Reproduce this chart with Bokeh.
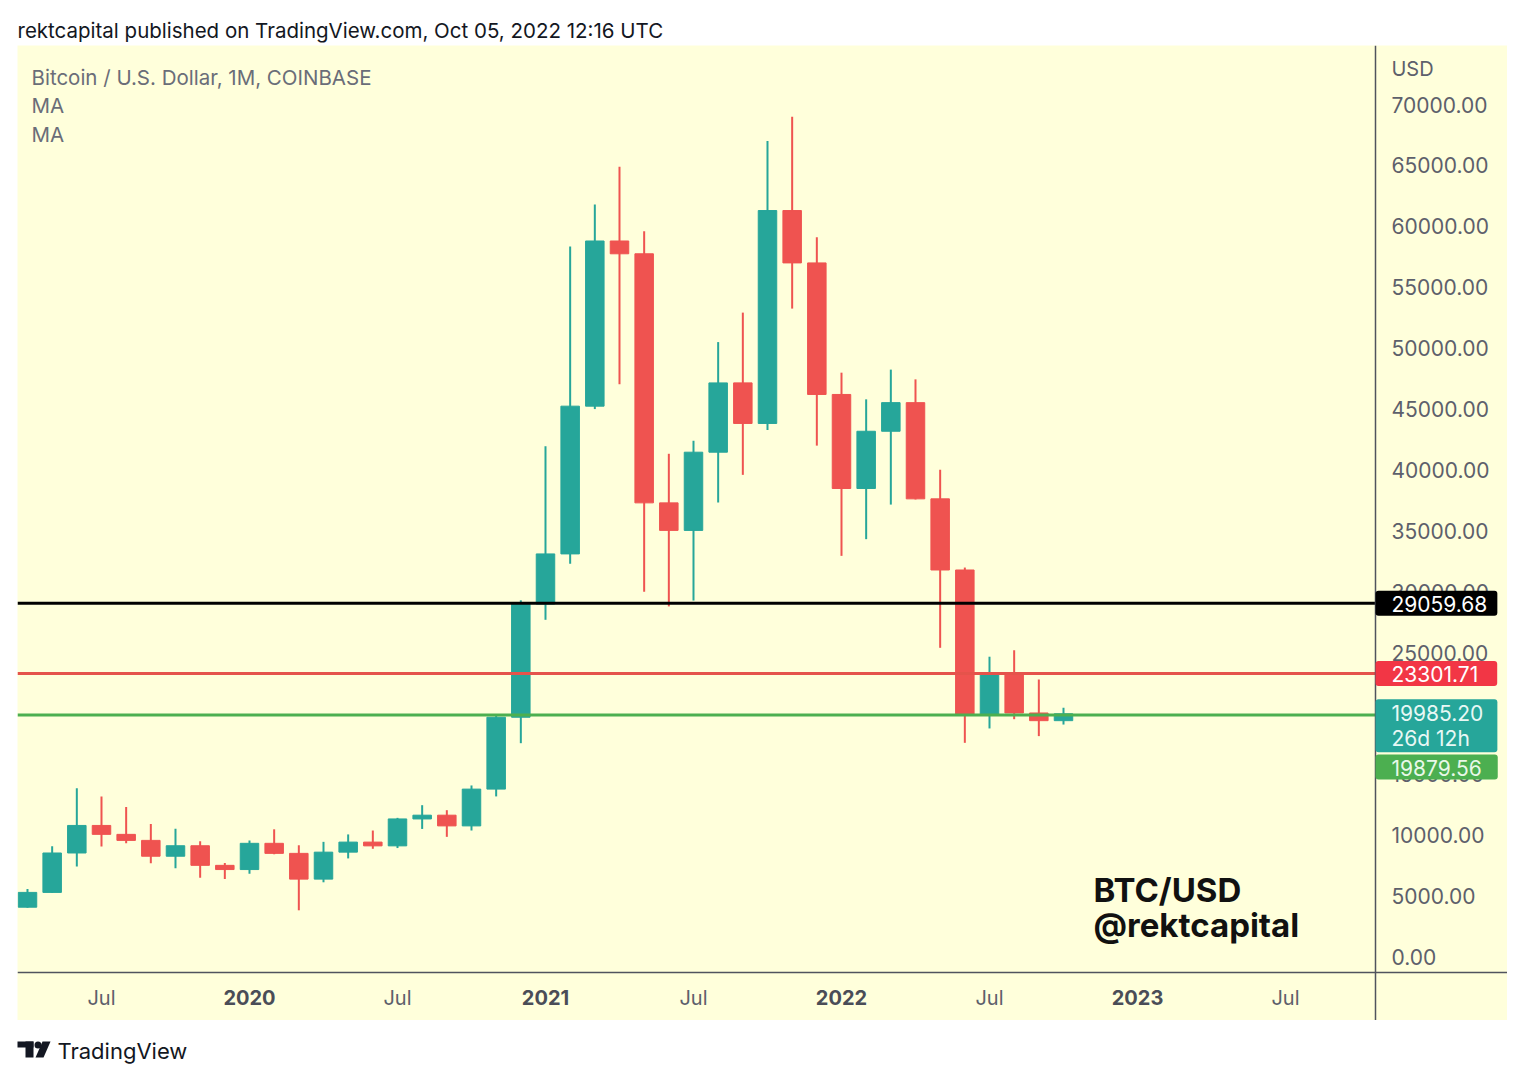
from bokeh.plotting import figure
from bokeh.models import ColumnDataSource, Range1d, FixedTicker, PrintfTickFormatter, Label
from bokeh.layouts import column
from bokeh.embed import file_html
from bokeh.resources import INLINE
from bokeh.core.properties import value

# ---------------- data ----------------
months = ["2019-04", "2019-05", "2019-06", "2019-07", "2019-08", "2019-09", "2019-10", "2019-11", "2019-12",
          "2020-01", "2020-02", "2020-03", "2020-04", "2020-05", "2020-06", "2020-07", "2020-08", "2020-09",
          "2020-10", "2020-11", "2020-12", "2021-01", "2021-02", "2021-03", "2021-04", "2021-05", "2021-06",
          "2021-07", "2021-08", "2021-09", "2021-10", "2021-11", "2021-12", "2022-01", "2022-02", "2022-03",
          "2022-04", "2022-05", "2022-06", "2022-07", "2022-08", "2022-09", "2022-10"]
opens = [4105, 5320, 8555, 10817, 10085, 9590, 8290, 9150, 7540,
         7195, 9350, 8525, 6410, 8625, 9450, 9140, 11350, 11660,
         10780, 13800, 19700, 28990, 33110, 45240, 58800, 57750, 37300,
         35040, 41460, 47150, 43820, 61300, 57000, 46200, 38480, 43180,
         45530, 37630, 31790, 19940, 23300, 20050, 19420]
highs = [5600, 9100, 13880, 13200, 12330, 10940, 10540, 9510, 7740,
         9580, 10500, 9190, 9470, 10080, 10400, 11440, 12480, 12070,
         14100, 19920, 29300, 41950, 58350, 61790, 64900, 59600, 41330,
         42400, 50500, 52920, 67000, 69000, 59100, 47990, 45800, 48240,
         47440, 40020, 31990, 24670, 25200, 22800, 20480]
lows = [4067, 5300, 7440, 9080, 9350, 7710, 7300, 6515, 6410,
        6850, 8450, 3850, 6150, 8110, 8900, 8960, 10530, 9880,
        10400, 13200, 17570, 27700, 32300, 45000, 47040, 30000, 28800,
        29280, 37330, 39600, 43280, 53250, 42000, 32950, 34320, 37160,
        37580, 25400, 17600, 18780, 19540, 18150, 19100]
closes = [5320, 8555, 10817, 10085, 9590, 8290, 9150, 7540, 7195,
          9350, 8525, 6410, 8625, 9450, 9140, 11350, 11660, 10780,
          13800, 19700, 28990, 33110, 45240, 58800, 57750, 37300, 35040,
          41460, 47150, 43820, 61300, 57000, 46200, 38480, 43180, 45530,
          37630, 31790, 19940, 23300, 20050, 19420, 19985]

month_ticks = ["2019-07", "2020-07", "2021-07", "2022-07", "2023-07"]
month_tick_label = "Jul"
year_ticks = ["2020-01", "2021-01", "2022-01", "2023-01"]
year_tick_labels = ["2020", "2021", "2022", "2023"]
price_ticks = [0, 5000, 10000, 15000, 20000, 25000, 30000, 35000, 40000, 45000, 50000, 55000, 60000, 65000, 70000]

level_values = [29059.68, 23301.71, 19879.56]
level_texts = ["29059.68", "23301.71", "19879.56"]
last_price = 19985.20
last_price_text = "19985.20"
countdown_text = "26d 12h"

header_text = "rektcapital published on TradingView.com, Oct 05, 2022 12:16 UTC"
legend_lines = ["Bitcoin / U.S. Dollar, 1M, COINBASE", "MA", "MA"]
watermark_lines = ["BTC/USD", "@rektcapital"]

# ---------------- style ----------------
FONT = "Inter"
BG = "#FFFFDB"
UP = "#26A69A"
DOWN = "#EF5350"
TXT = "#5D606B"
LEVEL_COLORS = ["#000000", "#E5534B", "#4CAF50"]
LABEL_BG = ["#000000", "#F23645", "#4CAF50"]


def midx(s):
    y, m = s.split("-")
    return (int(y) - 2019) * 12 + int(m) - 1


xs = [midx(m) for m in months]
colors = [UP if c >= o else DOWN for o, c in zip(opens, closes)]
src = ColumnDataSource(dict(
    x=xs, open=opens, high=highs, low=lows, close=closes,
    top=[max(o, c) for o, c in zip(opens, closes)],
    bottom=[min(o, c) for o, c in zip(opens, closes)],
    color=colors,
))

# view geometry (frame = whole yellow pane; axes drawn at fixed locations inside it)
X_LEFT, X_RIGHT = 2.595, 63.0
X_AXIS = 57.648          # price-scale separator
Y_BOTTOM, Y_TOP = -5197, 74850
Y_AXIS = -1256           # time-scale separator

p = figure(width=1490, height=975, output_backend="svg", toolbar_location=None,
           x_range=Range1d(X_LEFT, X_RIGHT), y_range=Range1d(Y_BOTTOM, Y_TOP),
           min_border=0, min_border_left=0, min_border_right=0, min_border_top=0, min_border_bottom=0,
           y_axis_location="right", background_fill_color=BG, border_fill_color=BG,
           outline_line_color=None, margin=(0, 9, 0, 17))
p.grid.visible = False

p.segment(x0="x", y0="low", x1="x", y1="high", line_color="color", line_width=2, source=src)
p.vbar(x="x", width=0.75, top="top", bottom="bottom", fill_color="color", line_color="color",
       line_width=1, source=src)

# horizontal levels, stopping at the price scale
p.segment(x0=[X_LEFT] * 3, x1=[X_AXIS] * 3, y0=level_values, y1=level_values,
          line_color=LEVEL_COLORS, line_width=3)

# y axis (price scale)
yax = p.yaxis[0]
yax.fixed_location = X_AXIS
yax.ticker = FixedTicker(ticks=price_ticks)
yax.formatter = PrintfTickFormatter(format="%.2f")
yax.major_tick_line_color = None
yax.minor_tick_line_color = None
yax.major_tick_out = 0
yax.major_tick_in = 0
yax.major_label_standoff = 16
yax.axis_line_color = "#50535E"
yax.axis_line_width = 1.5
yax.major_label_text_font = FONT
yax.major_label_text_font_size = "21px"
yax.major_label_text_color = TXT

# x axis (time scale)
xax = p.xaxis[0]
xax.fixed_location = Y_AXIS
xax.ticker = FixedTicker(ticks=[midx(m) for m in month_ticks])
xax.major_label_overrides = {midx(m): month_tick_label for m in month_ticks}
xax.major_tick_line_color = None
xax.minor_tick_line_color = None
xax.major_tick_out = 0
xax.major_tick_in = 0
xax.major_label_standoff = 14
xax.axis_line_color = "#50535E"
xax.axis_line_width = 1.5
xax.major_label_text_font = FONT
xax.major_label_text_font_size = "20px"
xax.major_label_text_color = TXT

for m, t in zip(year_ticks, year_tick_labels):
    p.add_layout(Label(x=midx(m), y=23, x_units="data", y_units="screen", text=t,
                       text_align="center", text_baseline="middle", text_font=FONT,
                       text_font_size="20px", text_font_style="bold", text_color="#4A4D57"))


def price_label(text, y, bg, y_offset=0, fg="white", line_height=1.2, right=10, top=5, bottom=4):
    return Label(x=X_AXIS, y=y, x_units="data", y_units="data", text=text, x_offset=0, y_offset=y_offset,
                 text_align="left", text_baseline="middle", text_font=FONT, text_font_size="21px",
                 text_color=fg, background_fill_color=bg, text_line_height=line_height,
                 padding=dict(left=16, right=right, top=top, bottom=bottom), border_radius=3)


p.add_layout(price_label(level_texts[0], level_values[0], LABEL_BG[0], right=10))
p.add_layout(price_label(level_texts[1], level_values[1], LABEL_BG[1], right=19))
p.add_layout(price_label(last_price_text + "\n" + countdown_text, last_price, UP, y_offset=-12,
                         fg="#E8F8F5", line_height=1.0, right=14, top=2, bottom=1))
p.add_layout(price_label(level_texts[2], level_values[2], LABEL_BG[2], y_offset=-52, fg="#E8F8E8",
                         right=16))

# currency label
p.add_layout(Label(x=X_AXIS, y=23, x_units="data", y_units="canvas", x_offset=16, text="USD",
                   text_align="left", text_baseline="middle", text_font=FONT,
                   text_font_size="20px", text_color=TXT))

# legend texts
for t, yy in zip(legend_lines, [32, 60, 89]):
    p.add_layout(Label(x=14, y=yy, x_units="canvas", y_units="canvas", text=t,
                       text_align="left", text_baseline="middle", text_font=FONT,
                       text_font_size="20.5px", text_color="#6A6D78"))

# watermark
for t, yy in zip(watermark_lines, [844, 879]):
    p.add_layout(Label(x=1076, y=yy, x_units="canvas", y_units="canvas", text=t,
                       text_align="left", text_baseline="middle", text_font=FONT,
                       text_font_size="33px", text_font_style="bold", text_color="#111111"))

# ---------------- header ----------------
hdr = figure(width=1516, height=45, output_backend="svg", toolbar_location=None,
             x_range=Range1d(0, 1516), y_range=Range1d(0, 45), min_border=0,
             x_axis_location=None, y_axis_location=None, outline_line_color=None,
             background_fill_color="white", border_fill_color="white")
hdr.grid.visible = False
hdr.text(x=[17], y=[15], text=[header_text], text_font=value(FONT), text_font_size="20.5px",
         text_baseline="middle", text_align="left", text_color="#131722")

# ---------------- footer ----------------
ftr = figure(width=1516, height=52, output_backend="svg", toolbar_location=None,
             x_range=Range1d(0, 1516), y_range=Range1d(0, 52), min_border=0,
             x_axis_location=None, y_axis_location=None, outline_line_color=None,
             background_fill_color="white", border_fill_color="white")
ftr.grid.visible = False
ftr.quad(left=[17, 25], right=[33, 33], top=[31, 31], bottom=[25, 15], fill_color="#131722", line_color=None)
ftr.scatter(x=[37.5], y=[27.5], size=7, fill_color="#131722", line_color=None)
ftr.patch(x=[42, 50, 43, 35], y=[31, 31, 15, 15], fill_color="#131722", line_color=None)
ftr.text(x=[57], y=[22], text=["TradingView"], text_font=value(FONT), text_font_size="22px",
         text_baseline="middle", text_align="left", text_color="#131722")

layout = column(hdr, p, ftr)
open("out.html", "w").write(file_html(layout, INLINE))
